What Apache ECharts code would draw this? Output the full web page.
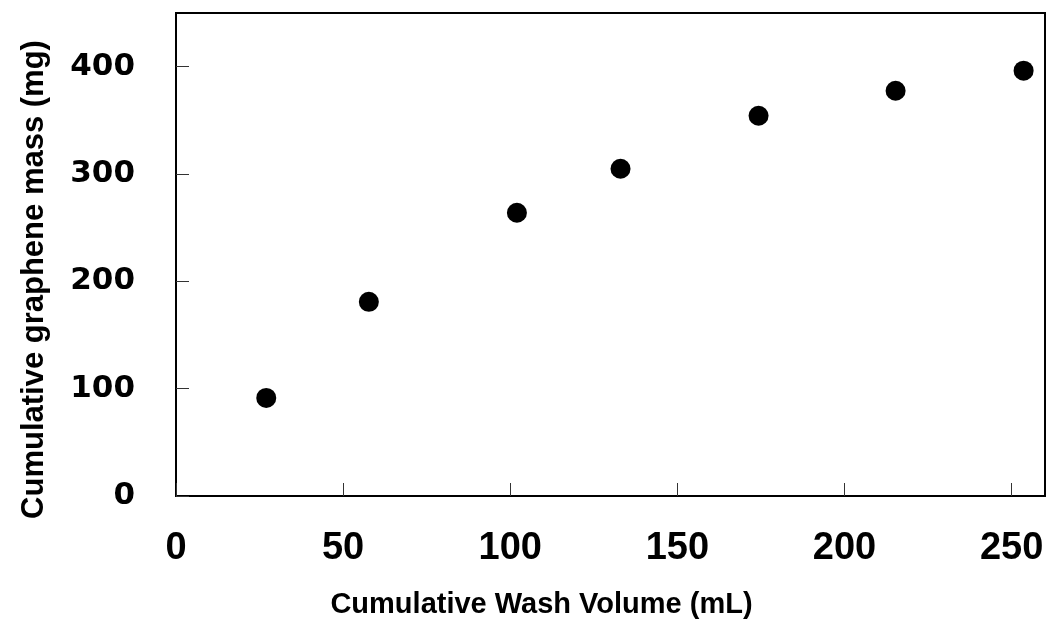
<!DOCTYPE html>
<html>
<head>
<meta charset="utf-8">
<script src="https://cdn.jsdelivr.net/npm/echarts@6/dist/echarts.min.js"></script>
<style>
  html, body { margin: 0; padding: 0; background: #fff; }
  #chart { width: 1049px; height: 626px; }
</style>
</head>
<body>
<div id="chart"></div>
<script>
// Data
var washVolume = [27, 57.7, 102, 133, 174.3, 215.3, 253.6];      // mL
var grapheneMass = [91.4, 180.9, 263.9, 304.9, 354.3, 377.6, 396.3]; // mg
var xTicks = [0, 50, 100, 150, 200, 250];
var yTicks = [0, 100, 200, 300, 400];
var xTitle = 'Cumulative Wash Volume (mL)';
var yTitle = 'Cumulative graphene mass (mg)';

var points = washVolume.map(function (x, i) { return [x, grapheneMass[i]]; });

var chart = echarts.init(document.getElementById('chart'), null, { renderer: 'canvas' });
chart.setOption({
  backgroundColor: '#ffffff',
  animation: false,
  grid: {
    left: 176, right: 4, top: 13, bottom: 130,
    show: true, borderColor: '#000', borderWidth: 2, backgroundColor: 'transparent'
  },
  xAxis: {
    type: 'value',
    min: 0, max: 260, interval: 50,
    name: xTitle,
    nameLocation: 'middle',
    nameGap: 94,
    nameTextStyle: {
      fontFamily: 'Liberation Sans', fontWeight: 'bold', fontSize: 29, color: '#000',
      padding: [0, 138, 0, 0]
    },
    axisLine: { show: true, lineStyle: { color: '#000', width: 2 } },
    axisTick: { show: true, inside: true, length: 13, lineStyle: { color: '#333', width: 1 } },
    splitLine: { show: false },
    axisLabel: {
      margin: 34,
      fontFamily: 'Liberation Sans', fontWeight: 'bold', fontSize: 38, color: '#000',
      formatter: function (v) { return xTicks.indexOf(v) >= 0 ? String(v) : ''; },
      showMaxLabel: false
    }
  },
  yAxis: {
    type: 'value',
    min: 0, max: 450, interval: 100,
    name: yTitle,
    nameLocation: 'middle',
    nameGap: 126,
    nameTextStyle: {
      fontFamily: 'Liberation Sans', fontWeight: 'bold', fontSize: 31, color: '#000',
      padding: [0, 50, 0, 0]
    },
    axisLine: { show: true, lineStyle: { color: '#000', width: 2 } },
    axisTick: { show: true, inside: true, length: 13, lineStyle: { color: '#333', width: 1 } },
    splitLine: { show: false },
    axisLabel: {
      margin: 41,
      fontFamily: 'DejaVu Sans', fontWeight: 'bold', fontSize: 31, color: '#000',
      padding: [0, 0, 6, 0],
      formatter: function (v) { return yTicks.indexOf(v) >= 0 ? String(v) : ''; },
      showMaxLabel: false
    }
  },
  series: [{
    type: 'scatter',
    data: points,
    symbol: 'circle',
    symbolSize: 20,
    itemStyle: { color: '#000', opacity: 1 }
  }]
});
</script>
</body>
</html>
